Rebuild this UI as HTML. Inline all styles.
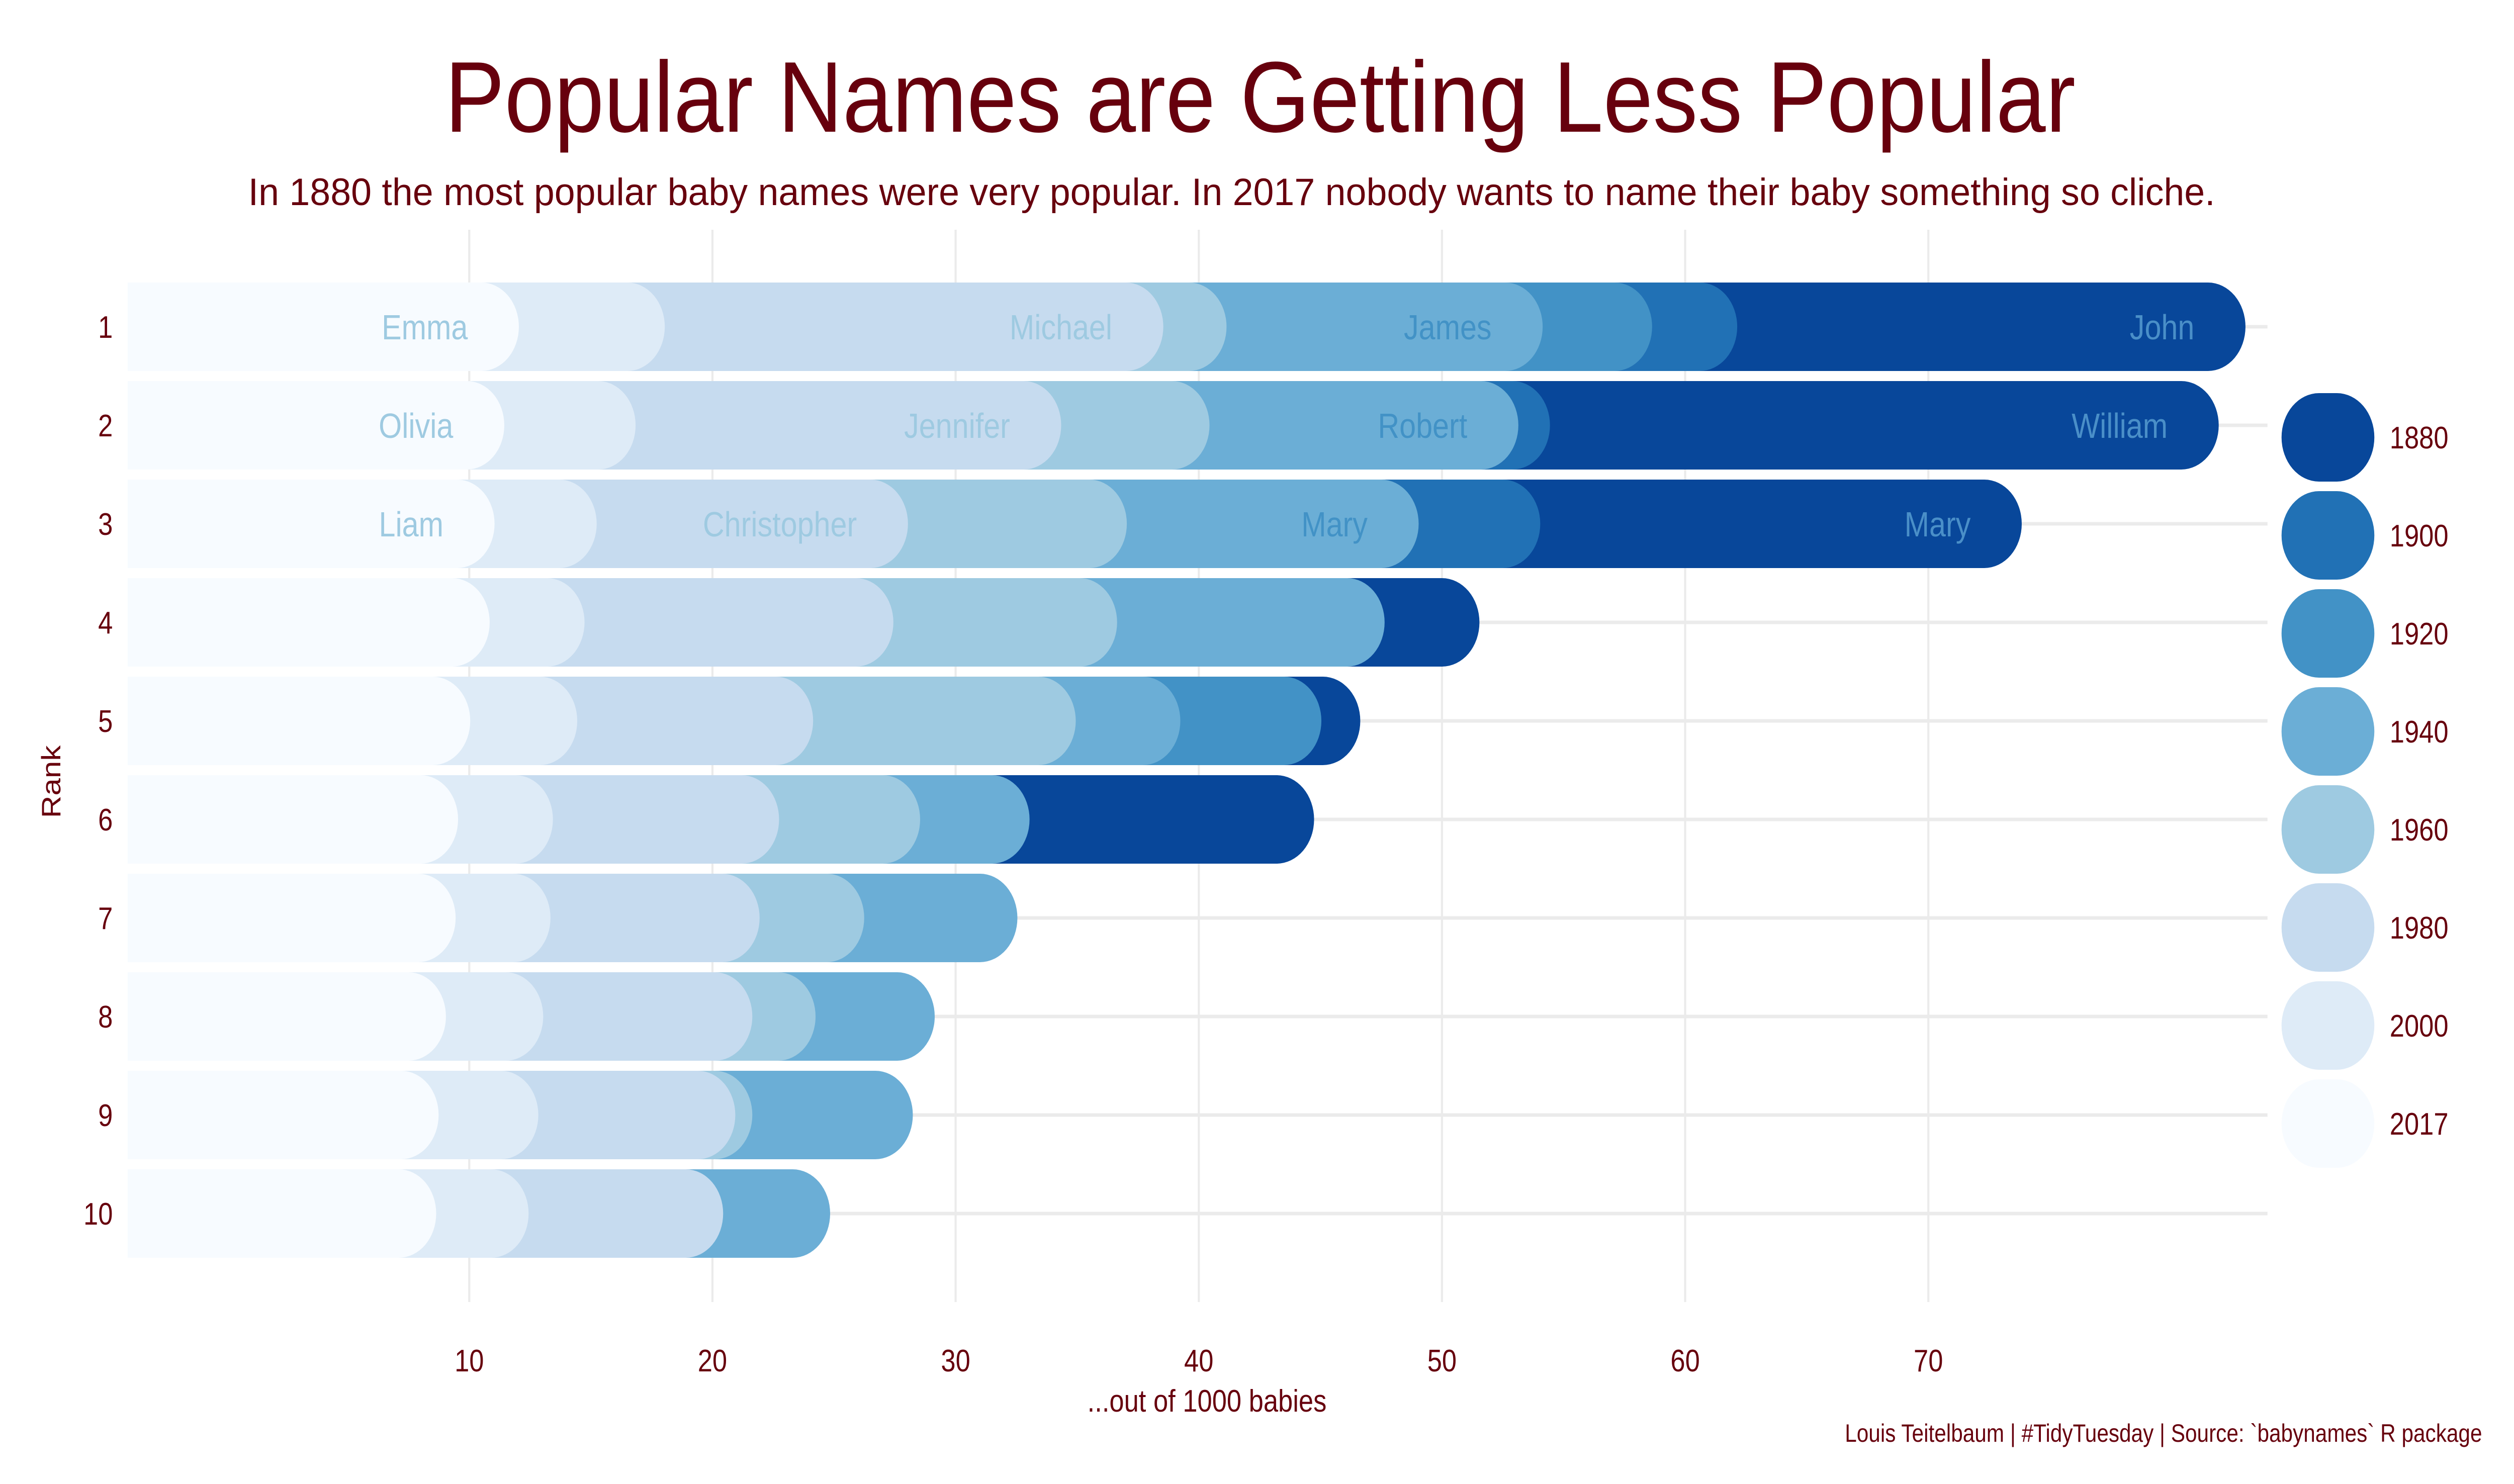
<!DOCTYPE html>
<html><head><meta charset="utf-8"><style>
html,body{margin:0;padding:0;background:#fff;overflow:hidden;width:100%;height:100%;}
svg{display:block;font-family:"Liberation Sans",sans-serif;width:100vw;height:100vh;}
</style></head><body>
<svg id="chart" viewBox="0 0 5905 2952" preserveAspectRatio="none" xmlns="http://www.w3.org/2000/svg">
<rect width="5905" height="2952" fill="#fff"/>
<text x="2960" y="262" text-anchor="middle" font-size="200" fill="#67000d" textLength="3830" lengthAdjust="spacingAndGlyphs">Popular Names are Getting Less Popular</text>
<text x="2893" y="408" text-anchor="middle" font-size="76" fill="#67000d" textLength="4620" lengthAdjust="spacingAndGlyphs">In 1880 the most popular baby names were very popular. In 2017 nobody wants to name their baby something so cliche.</text>
<g id="grid"></g>
<g id="bars"></g>
<g id="axes"></g>
<g id="legend"></g>
<text x="2835" y="2808" text-anchor="middle" font-size="62" fill="#67000d">...out of 1000 babies</text>
<text x="142" y="1555" text-anchor="middle" font-size="62" fill="#67000d" transform="rotate(-90 142 1555)">Rank</text>
<text x="5830" y="2868" text-anchor="end" font-size="50" fill="#67000d">Louis Teitelbaum | #TidyTuesday | Source: `babynames` R package</text>
</svg>
<script>
const years = ["1880","1900","1920","1940","1960","1980","2000","2017"];
const colors = ["#08479a","#2171b5","#4292c6","#6baed6","#9ecae1","#c6dbef","#deebf7","#f7fbff"];
const ranks = [1,2,3,4,5,6,7,8,9,10];
const v1880 = [81.5,80.4,72.3,50.0,45.1,43.2,29,26,25,22];
const v1900 = [60.6,52.9,52.5,45,43,31,29,26,25,22];
const v1920 = [57.1,51.5,47.0,45,43.5,31,29,26,25,22];
const v1940 = [52.6,51.6,47.5,46.1,37.7,31.5,31.0,27.6,26.7,23.3];
const v1960 = [39.6,38.9,35.5,35.1,33.4,27.0,24.7,22.7,20.1,18.5];
const v1980 = [37.0,32.8,26.5,25.9,22.6,21.2,20.4,20.1,19.4,18.9];
const v2000 = [16.5,15.3,13.7,13.2,12.9,11.9,11.8,11.5,11.3,10.9];
const v2017 = [10.5,9.9,9.5,9.3,8.5,8.0,7.9,7.5,7.2,7.1];
const labels1880 = ["John","William","Mary"];
const labels1940 = ["James","Robert","Mary"];
const labels1980 = ["Michael","Jennifer","Christopher"];
const labels2017 = ["Emma","Olivia","Liam"];
const xTicks = [10,20,30,40,50,60,70];

const NS="http://www.w3.org/2000/svg";
const series=[v1880,v1900,v1920,v1940,v1960,v1980,v2000,v2017];
const labelSets={0:labels1880,3:labels1940,5:labels1980,7:labels2017};
const labelColors={0:"#4a8fc8",3:"#4292c6",5:"#9ecae1",7:"#9ecae1"};
const X=v=>531+v*57.12;
const Y=r=>650+(r-1)*196;
const R=88, LEFT=300;
function mk(tag,attrs,parent){const e=document.createElementNS(NS,tag);for(const k in attrs)e.setAttribute(k,attrs[k]);parent.appendChild(e);return e;}
const grid=document.getElementById('grid'),bars=document.getElementById('bars'),axes=document.getElementById('axes'),legend=document.getElementById('legend');
xTicks.forEach(t=>{
  const l=mk('line',{x1:X(t),x2:X(t),y1:457,y2:2590,stroke:'#ebebeb','stroke-width':5},grid);
  
  
  const tx=mk('text',{x:X(t),y:2728,'text-anchor':'middle','font-size':62,fill:'#67000d'},axes);
  tx.textContent=t;
  
  
});
ranks.forEach(r=>{
  const l=mk('line',{x1:LEFT,x2:5326,y1:Y(r),y2:Y(r),stroke:'#ebebeb','stroke-width':7},grid);
  
  
  const tx=mk('text',{x:265,y:Y(r)+22,'text-anchor':'end','font-size':62,fill:'#67000d'},axes);
  tx.textContent=r;
  
  
});
ranks.forEach((r,i)=>{
  series.forEach((s,k)=>{
    const xe=X(s[i]), yc=Y(r), top=yc-R, bot=yc+R;
    const d=`M${LEFT},${top} L${xe},${top} A${R},${R} 0 0 1 ${xe},${bot} L${LEFT},${bot} Z`;
    const p=mk('path',{d:d,fill:colors[k]},bars);
    
    
  });
  for(const k in labelSets){
    const ls=labelSets[k];
    if(i<ls.length){
      const tx=mk('text',{x:X(series[k][i])+R-120,y:Y(r)+25,'text-anchor':'end','font-size':70,fill:labelColors[k]},bars);
      tx.textContent=ls[i];
      
      
    }
  }
});
years.forEach((y,k)=>{
  const cy=870+k*195;
  const rc=mk('rect',{x:5359,y:cy-88,width:218,height:176,rx:88,ry:88,fill:colors[k]},legend);
  
  
  const tx=mk('text',{x:5613,y:cy+22,'font-size':62,fill:'#67000d'},legend);
  tx.textContent=y;
  
  
});
</script>
</body></html>
